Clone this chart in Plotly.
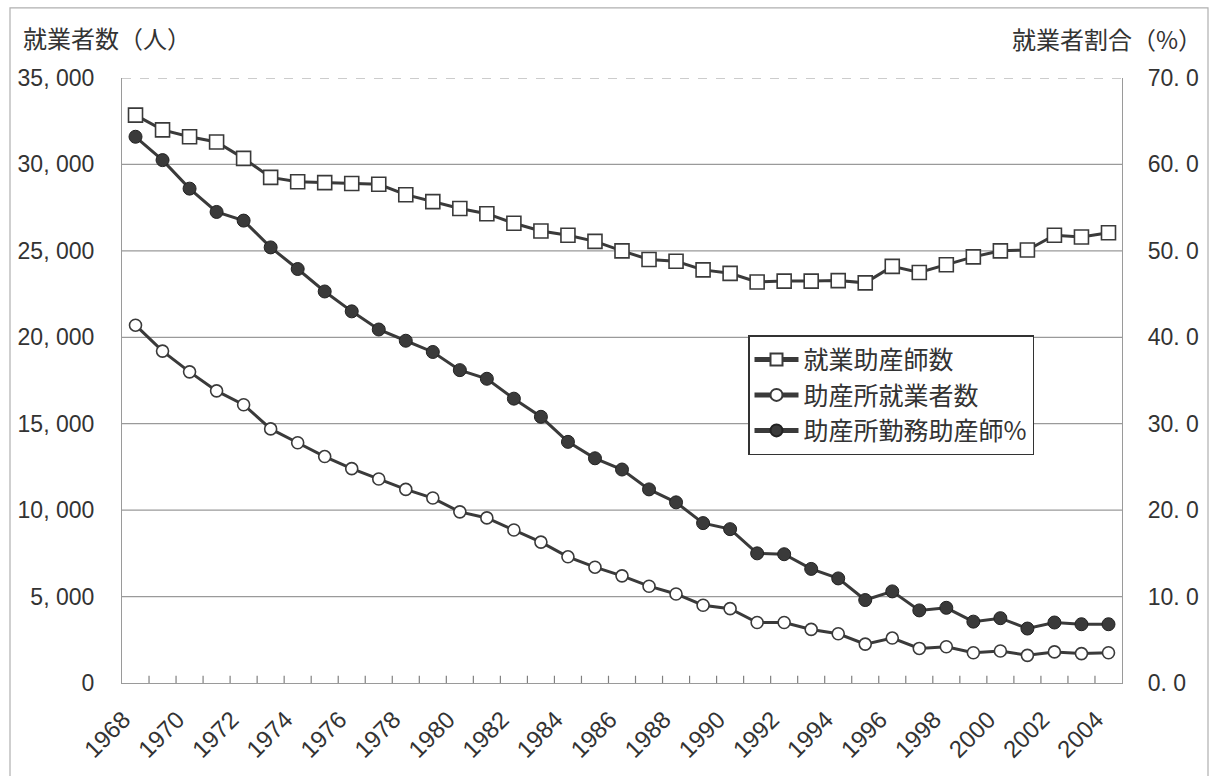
import plotly.graph_objects as go

# Years (categories along the x axis)
years = list(range(1968, 2005))

# 就業助産師数 (persons, left axis)
midwives = [32850, 32000, 31600, 31300, 30350, 29250, 29000, 28950, 28900, 28850,
            28250, 27850, 27450, 27150, 26600, 26150, 25900, 25550, 25000, 24500,
            24400, 23900, 23700, 23200, 23250, 23250, 23280, 23150, 24100, 23750,
            24200, 24650, 25000, 25050, 25900, 25800, 26050]

# 助産所就業者数 (persons, left axis)
clinic_workers = [20700, 19200, 18000, 16900, 16100, 14700, 13900, 13100, 12400, 11800,
                  11200, 10700, 9900, 9550, 8850, 8150, 7300, 6700, 6200, 5600,
                  5150, 4500, 4300, 3500, 3500, 3100, 2850, 2250, 2600, 2000,
                  2100, 1750, 1850, 1600, 1800, 1700, 1750]

# 助産所勤務助産師% (percent, right axis)
clinic_pct = [63.2, 60.5, 57.2, 54.5, 53.5, 50.4, 47.9, 45.3, 43.0, 40.9,
              39.6, 38.3, 36.2, 35.2, 32.9, 30.8, 27.9, 26.0, 24.7, 22.4,
              20.9, 18.5, 17.8, 15.0, 14.9, 13.2, 12.1, 9.6, 10.6, 8.4,
              8.7, 7.1, 7.5, 6.3, 7.0, 6.8, 6.8]

left_ticks = [0, 5000, 10000, 15000, 20000, 25000, 30000, 35000]
left_labels = ["0", "5, 000", "10, 000", "15, 000", "20, 000", "25, 000", "30, 000", "35, 000"]
right_ticks = [0, 10, 20, 30, 40, 50, 60, 70]
right_labels = ["0. 0", "10. 0", "20. 0", "30. 0", "40. 0", "50. 0", "60. 0", "70. 0"]
year_labels = list(range(1968, 2005, 2))

NUM_FONT = "Liberation Sans, Arial, sans-serif"
JP_FONT = "Noto Sans CJK JP, sans-serif"
INK = "#3a3a3a"
GRID = "#9a9a9a"

fig = go.Figure()

fig.add_trace(go.Scatter(
    x=years, y=midwives, name="就業助産師数", mode="lines+markers",
    line=dict(color=INK, width=3),
    marker=dict(symbol="square", size=14, color="white", line=dict(color=INK, width=1.6)),
))
fig.add_trace(go.Scatter(
    x=years, y=clinic_workers, name="助産所就業者数", mode="lines+markers",
    line=dict(color=INK, width=3),
    marker=dict(symbol="circle", size=12, color="white", line=dict(color=INK, width=1.6)),
))
fig.add_trace(go.Scatter(
    x=years, y=clinic_pct, name="助産所勤務助産師%", mode="lines+markers", yaxis="y2",
    line=dict(color=INK, width=3),
    marker=dict(symbol="circle", size=13, color=INK, line=dict(color="#222", width=1)),
))

# Horizontal gridlines (top one dashed)
shapes = []
for v in left_ticks[1:]:
    shapes.append(dict(
        type="line", xref="paper", yref="y", x0=0, x1=1, y0=v, y1=v,
        line=dict(color=GRID, width=1.2, dash="dash" if v == left_ticks[-1] else "solid"),
        layer="below",
    ))
# Small inside tick marks at the boundaries between years
for b in years[:-1]:
    shapes.append(dict(
        type="line", xref="x", yref="paper", x0=b + 0.5, x1=b + 0.5, y0=0, y1=0.012,
        line=dict(color="#808080", width=1.2), layer="above",
    ))
# Outer frame around the whole chart
shapes.append(dict(
    type="rect", xref="paper", yref="paper",
    x0=-0.112, x1=1.086, y0=-0.16, y1=1.116,
    line=dict(color="#b0b0b0", width=1.2), layer="below",
))

fig.update_layout(
    width=1210, height=776,
    margin=dict(l=122, r=88, t=78, b=93, autoexpand=False),
    paper_bgcolor="white", plot_bgcolor="white",
    font=dict(family=NUM_FONT, color="#333", size=24),
    showlegend=True,
    legend=dict(
        x=0.626, y=0.575, xanchor="left", yanchor="top",
        bgcolor="white", bordercolor="#333", borderwidth=1.5,
        font=dict(size=25, family=JP_FONT, color="#333"),
        tracegroupgap=0, itemsizing="constant", itemwidth=44,
    ),
    xaxis=dict(
        range=[1967.5, 2004.5], automargin=False,
        tickmode="array", tickvals=year_labels, ticktext=[str(y) for y in year_labels],
        tickangle=-45, ticks="", showgrid=False,
        showline=True, linecolor=GRID, linewidth=1.2,
        ticklabelshift=-12, ticklabelstandoff=12,
        tickfont=dict(size=24, family=NUM_FONT),
        zeroline=False,
    ),
    yaxis=dict(
        range=[0, 35000], automargin=False,
        tickmode="array", tickvals=left_ticks, ticktext=left_labels,
        showgrid=False, zeroline=False,
        showline=True, linecolor=GRID, linewidth=1.2,
        ticks="", ticklabelstandoff=22, tickfont=dict(size=23, family=NUM_FONT),
    ),
    yaxis2=dict(
        range=[0, 70], overlaying="y", side="right", automargin=False,
        tickmode="array", tickvals=right_ticks, ticktext=right_labels,
        showgrid=False, zeroline=False,
        showline=True, linecolor=GRID, linewidth=1.2,
        ticks="", ticklabelstandoff=20, tickfont=dict(size=23, family=NUM_FONT),
    ),
    shapes=shapes,
    annotations=[
        dict(text="就業者数（人）", xref="paper", yref="paper", x=-0.101, y=1.035,
             xanchor="left", yanchor="bottom", showarrow=False,
             font=dict(size=24, family=JP_FONT, color="#333")),
        dict(text="就業者割合（%）", xref="paper", yref="paper", x=1.082, y=1.033,
             xanchor="right", yanchor="bottom", showarrow=False,
             font=dict(size=24, family=JP_FONT, color="#333")),
    ],
)

fig.write_html("out.html")
